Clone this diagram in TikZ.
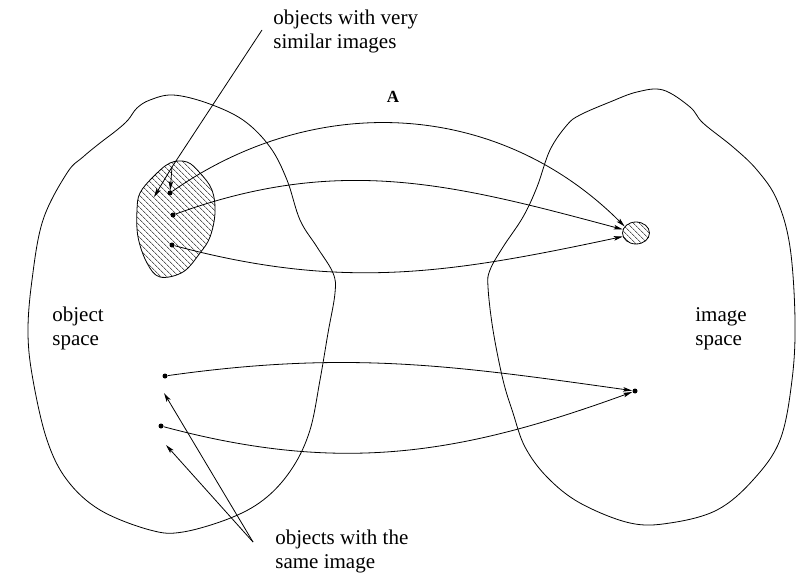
\documentclass[tikz,border=0pt]{standalone}
\usepackage{fontspec}
\setmainfont{Liberation Serif}
\usetikzlibrary{arrows.meta,patterns.meta,shapes.geometric}

\begin{document}
\begin{tikzpicture}[x=1pt,y=-1pt,line width=0.8pt,
  >={Stealth[length=9pt,width=4.5pt,inset=2pt]},
  dot/.style={circle,fill,inner sep=0pt,minimum size=5pt},
  txt/.style={anchor=base west,align=left,inner sep=0pt,font=\fontsize{21}{24}\selectfont},
  hachure/.style={pattern={Lines[angle=-45,distance=4pt,line width=0.6pt]}}]
\useasboundingbox (0,0) rectangle (808,575);

%espace des objets
\draw plot[smooth cycle,tension=0.6] coordinates {(173,95) (150,100) (137,108) (128,120) (117,130) (100,143) (83,157) (67,173) (43,220) (32,280) (28,333) (33,380) (47,440) (67,480) (100,510) (150,530) (183,532) (233,517) (267,497) (293,467) (310,430) (320,380) (328,333) (335,293) (333,273) (317,247) (300,220) (287,180) (270,147) (243,120) (207,103)};
%espace des images
\draw plot[smooth cycle,tension=0.6] coordinates {(663,90) (637,92) (610,102) (580,115) (567,125) (550,150) (537,187) (523,217) (503,247) (490,270) (488,287) (493,330) (503,380) (513,413) (525,447) (547,477) (580,503) (630,523) (670,523) (717,510) (753,480) (780,440) (792,380) (795,320) (790,247) (777,200) (757,170) (733,147) (703,123) (690,107)};

%zones hachurees
\draw[hachure] plot[smooth cycle,tension=0.6] coordinates {(170,163) (187,162) (200,173) (212,190) (215,213) (210,237) (200,253) (183,272) (160,277) (147,263) (138,237) (137,210) (140,193) (153,177)};
\node[ellipse,draw,hachure,inner sep=0pt,minimum width=27pt,minimum height=22pt] (img) at (636,233) {};

%objets
\coordinate (o0) at (154,197);
\node[dot] (o1) at (170,193) {};
\node[dot] (o2) at (173,215) {};
\node[dot] (o3) at (172,245) {};
\node[dot] (b1) at (165,376) {};
\node[dot] (b2) at (161,426) {};
\node[dot] (t) at (635,391) {};

%textes (base = derniere ligne)
\node[txt] (simtxt) at (273,49) {objects with very\\similar images};
\node[txt] (objtxt) at (52,345) {object\\space};
\node[txt] (imgtxt) at (695,345) {image\\space};
\node[txt] (sametxt) at (275,568) {objects with the\\same image};
\node[font=\bfseries\fontsize{17}{19}\selectfont] (fA) at (393,97) {A};

%fleches des textes
\coordinate (simfork) at (262,30);
\coordinate (simsplit) at (172,167);
\draw (simfork) -- (simsplit);
\draw[->] (simsplit) -- (o0);
\draw[->] (simsplit) -- (o1);
\coordinate (samefork) at (253,542);
\coordinate (pb1) at (164,393);
\coordinate (pb2) at (166,445);
\draw[->] (samefork) -- (pb1);
\draw[->] (samefork) -- (pb2);

%application A
\draw[->] (o1) to[out=35,in=135] (img.150);
\draw[->] (o2) to[out=20,in=165] (img.165);
\draw[->] (o3) to[out=-15,in=192] (img.195);
\draw[->] (b1) to[out=8,in=172] (t);
\draw[->] (b2) to[out=-15,in=200] (t);

\end{tikzpicture}
\end{document}
